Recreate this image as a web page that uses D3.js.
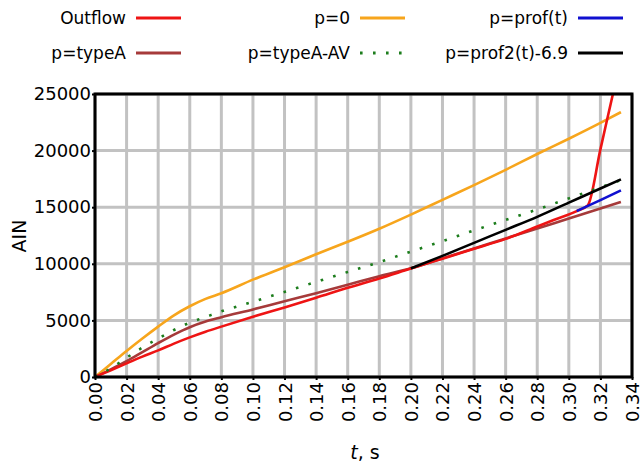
<!DOCTYPE html>
<html>
<head>
<meta charset="utf-8">
<script src="https://cdnjs.cloudflare.com/ajax/libs/d3/7.8.5/d3.min.js"></script>
<style>
  body { margin: 0; background: #fff; }
  text { font-family: "DejaVu Sans", Verdana, sans-serif; fill: #000; }
</style>
</head>
<body>
<div id="chart"></div>
<script>

//Data (t in s, AIN)
var outflowT = [0, 0.01, 0.02, 0.03, 0.04, 0.05, 0.06, 0.07, 0.08, 0.10, 0.12, 0.14, 0.16, 0.18, 0.20, 0.22, 0.24, 0.26, 0.28, 0.29, 0.305, 0.312, 0.32, 0.3277, 0.3295];
var outflowV = [0, 600, 1200, 1800, 2350, 2950, 3500, 4000, 4450, 5320, 6150, 7000, 7880, 8700, 9585, 10450, 11320, 12200, 13300, 13850, 14660, 15170, 20110, 24870, 25980];

var p0T = [0, 0.01, 0.02, 0.03, 0.04, 0.05, 0.06, 0.07, 0.08, 0.10, 0.12, 0.14, 0.16, 0.18, 0.20, 0.22, 0.24, 0.26, 0.28, 0.30, 0.32, 0.333];
var p0V = [0, 1150, 2300, 3400, 4450, 5450, 6250, 6900, 7400, 8600, 9700, 10850, 11950, 13100, 14350, 15650, 16950, 18300, 19700, 21050, 22450, 23400];

var typeAT = [0, 0.01, 0.02, 0.03, 0.04, 0.05, 0.06, 0.07, 0.08, 0.10, 0.12, 0.14, 0.16, 0.18, 0.20, 0.22, 0.24, 0.26, 0.28, 0.30, 0.32, 0.333];
var typeAV = [0, 680, 1400, 2200, 3000, 3750, 4400, 4900, 5280, 5970, 6700, 7400, 8150, 8900, 9600, 10480, 11360, 12240, 13120, 14000, 14880, 15460];

var typeAavT = [0, 0.01, 0.02, 0.03, 0.04, 0.05, 0.06, 0.07, 0.08, 0.10, 0.12, 0.14, 0.16, 0.18, 0.20, 0.22, 0.24, 0.26, 0.28, 0.30, 0.32, 0.333];
var typeAavV = [0, 770, 1700, 2600, 3400, 4150, 4800, 5300, 5800, 6650, 7520, 8400, 9280, 10150, 11080, 12000, 12950, 13880, 14800, 15780, 16750, 17400];

var profT = [0.305, 0.32, 0.333];
var profV = [14660, 15630, 16490];

var prof2T = [0.20, 0.22, 0.24, 0.26, 0.28, 0.30, 0.32, 0.333];
var prof2V = [9600, 10700, 11850, 13000, 14150, 15400, 16650, 17460];

var xTicks = d3.range(0, 0.3401, 0.02);
var yTicks = [0, 5000, 10000, 15000, 20000, 25000];

//Series list, in drawing order
var series = [
    {name: "p=0", t: p0T, v: p0V, color: "#f7a51c", dash: null},
    {name: "p=typeA", t: typeAT, v: typeAV, color: "#a63a3a", dash: null},
    {name: "Outflow", t: outflowT, v: outflowV, color: "#ee1414", dash: null},
    {name: "p=typeA-AV", t: typeAavT, v: typeAavV, color: "#1c7d1c", dash: "2.6 10.4"},
    {name: "p=prof2(t)-6.9", t: prof2T, v: prof2V, color: "#000000", dash: null},
    {name: "p=prof(t)", t: profT, v: profV, color: "#1010d0", dash: null}
];

//Legend layout: [series name, text right edge, row y]
var legendItems = [
    ["Outflow", 126, 18], ["p=0", 350, 18], ["p=prof(t)", 568, 18],
    ["p=typeA", 126, 53], ["p=typeA-AV", 350, 53], ["p=prof2(t)-6.9", 568, 53]
];

var width = 641, height = 464;
var plot = {left: 95, right: 632, top: 94, bottom: 377};

var svg = d3.select("#chart")
    .append("svg")
    .attr("width", width)
    .attr("height", height);

//Scales
var xScale = d3.scaleLinear()
    .domain([0, 0.34])
    .range([plot.left, plot.right]);

var yScale = d3.scaleLinear()
    .domain([0, 25000])
    .range([plot.bottom, plot.top]);

//Grid lines
var grid = svg.append("g").attr("class", "grid");

grid.selectAll("line.vx")
    .data(xTicks)
    .enter()
    .append("line")
        .attr("class", "vx")
        .attr("x1", d => xScale(d))
        .attr("x2", d => xScale(d))
        .attr("y1", plot.top)
        .attr("y2", plot.bottom)
        .style("stroke", "#c2c2c2")
        .style("stroke-width", 3);

grid.selectAll("line.hy")
    .data(yTicks)
    .enter()
    .append("line")
        .attr("class", "hy")
        .attr("x1", plot.left)
        .attr("x2", plot.right)
        .attr("y1", d => yScale(d))
        .attr("y2", d => yScale(d))
        .style("stroke", "#c2c2c2")
        .style("stroke-width", 3);

//Clip so the outflow spike stops at the frame
svg.append("clipPath")
    .attr("id", "plotClip")
    .append("rect")
        .attr("x", plot.left)
        .attr("y", plot.top)
        .attr("width", plot.right - plot.left)
        .attr("height", plot.bottom - plot.top);

var line = d3.line()
    .x(d => xScale(d[0]))
    .y(d => yScale(d[1]))
    .curve(d3.curveMonotoneX);

var lines = svg.append("g")
    .attr("class", "lines")
    .attr("clip-path", "url(#plotClip)");

lines.selectAll("path")
    .data(series)
    .enter()
    .append("path")
        .attr("d", d => line(d.t.map((t, i) => [t, d.v[i]])))
        .attr("fill", "none")
        .attr("stroke", d => d.color)
        .attr("stroke-width", 2.6)
        .attr("stroke-dasharray", d => d.dash);

//Frame
svg.append("rect")
    .attr("x", plot.left)
    .attr("y", plot.top)
    .attr("width", plot.right - plot.left)
    .attr("height", plot.bottom - plot.top)
    .attr("fill", "none")
    .attr("stroke", "#000")
    .attr("stroke-width", 3);

//Axes
var xAxis = svg.append("g")
    .attr("class", "xAxis")
    .attr("transform", "translate(0," + plot.bottom + ")")
    .call(d3.axisBottom(xScale).tickValues(xTicks).tickSize(3).tickFormat(d3.format(".2f")));

xAxis.select(".domain").remove();
xAxis.selectAll(".tick line").attr("stroke", "#000").attr("stroke-width", 2);
xAxis.selectAll(".tick text")
    .attr("transform", "rotate(-90)")
    .attr("x", -5)
    .attr("y", 0)
    .attr("dy", "0.36em")
    .attr("text-anchor", "end")
    .style("font-size", "18px")
    .style("font-family", "'DejaVu Sans', Verdana, sans-serif");

var yAxis = svg.append("g")
    .attr("class", "yAxis")
    .attr("transform", "translate(" + plot.left + ",0)")
    .call(d3.axisLeft(yScale).tickValues(yTicks).tickSize(3).tickFormat(d3.format("d")));

yAxis.select(".domain").remove();
yAxis.selectAll(".tick line").attr("stroke", "#000").attr("stroke-width", 2);
yAxis.selectAll(".tick text")
    .attr("x", -4)
    .style("font-size", "18px")
    .style("font-family", "'DejaVu Sans', Verdana, sans-serif");

//Axis titles
svg.append("text")
    .attr("transform", "translate(26,236) rotate(-90)")
    .attr("text-anchor", "middle")
    .style("font-size", "19px")
    .text("AIN");

var xTitle = svg.append("text")
    .attr("x", 365)
    .attr("y", 459)
    .attr("text-anchor", "middle")
    .style("font-size", "19px");

xTitle.append("tspan").style("font-style", "italic").text("t");
xTitle.append("tspan").text(", s");

//Legend
var legend = svg.append("g").attr("class", "legend");

legendItems.forEach(function(item) {
    var s = series.find(d => d.name === item[0]);

    legend.append("text")
        .attr("x", item[1])
        .attr("y", item[2])
        .attr("dy", "0.35em")
        .attr("text-anchor", "end")
        .style("font-size", "17px")
        .text(s.name);

    legend.append("line")
        .attr("x1", item[1] + 10)
        .attr("x2", item[1] + 55)
        .attr("y1", item[2])
        .attr("y2", item[2])
        .attr("stroke", s.color)
        .attr("stroke-width", 2.8)
        .attr("stroke-dasharray", s.dash);
});

</script>
</body>
</html>
